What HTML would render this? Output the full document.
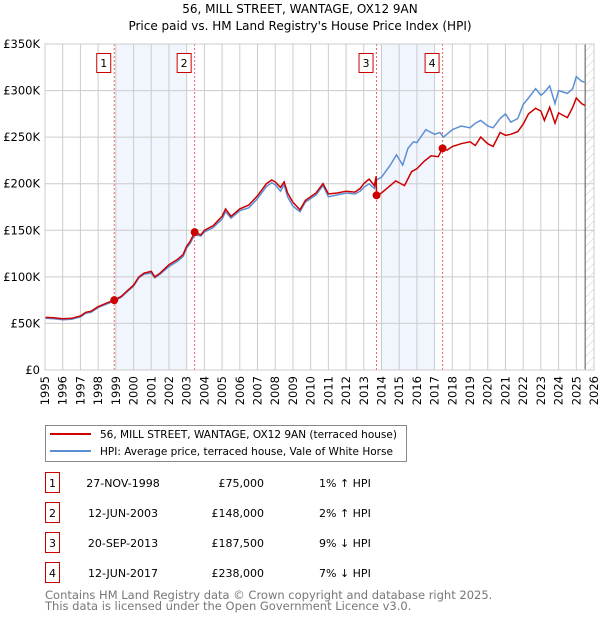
<!DOCTYPE html>
<html><head><meta charset="utf-8"><style>
body{margin:0;background:#fff;font-family:"Liberation Sans","DejaVu Sans",sans-serif;}
svg text{font-family:"DejaVu Sans","Liberation Sans",sans-serif;}
</style></head><body>
<svg id="chart" width="600" height="620" xmlns="http://www.w3.org/2000/svg">
<defs><pattern id="hatch" width="6" height="6" patternUnits="userSpaceOnUse" patternTransform="rotate(45)"><line x1="0" y1="0" x2="0" y2="6" stroke="#ccc" stroke-width="1"/></pattern></defs>
<text x="300" y="13" text-anchor="middle" font-size="12">56, MILL STREET, WANTAGE, OX12 9AN</text>
<text x="300" y="30" text-anchor="middle" font-size="12">Price paid vs. HM Land Registry's House Price Index (HPI)</text>
<g id="plot"></g>
<g>
<rect x="45.5" y="425.5" width="361" height="36" fill="#fff" stroke="#888"/>
<line x1="50" y1="434" x2="91" y2="434" stroke="#cc0000" stroke-width="2"/>
<text x="100" y="438" font-size="10.5">56, MILL STREET, WANTAGE, OX12 9AN (terraced house)</text>
<line x1="50" y1="451" x2="91" y2="451" stroke="#5b8fd4" stroke-width="2"/>
<text x="100" y="455" font-size="10.5">HPI: Average price, terraced house, Vale of White Horse</text>
</g>
<g id="table" font-size="11"></g>
<text x="45" y="599" font-size="11.5" fill="#777">Contains HM Land Registry data © Crown copyright and database right 2025.</text>
<text x="45" y="610" font-size="11.5" fill="#777">This data is licensed under the Open Government Licence v3.0.</text>
</svg>
<script>
const yearTicks=[1995,1996,1997,1998,1999,2000,2001,2002,2003,2004,2005,2006,2007,2008,2009,2010,2011,2012,2013,2014,2015,2016,2017,2018,2019,2020,2021,2022,2023,2024,2025,2026];
const valueTicks=[0,50000,100000,150000,200000,250000,300000,350000];
const valueTickLabels=["£0","£50K","£100K","£150K","£200K","£250K","£300K","£350K"];
const redT=[1995,1995.5,1996,1996.5,1997,1997.3,1997.6,1998,1998.5,1998.91,1999.3,1999.7,2000,2000.3,2000.6,2001,2001.2,2001.5,2002,2002.5,2002.8,2003,2003.2,2003.45,2003.8,2004,2004.5,2005,2005.2,2005.5,2006,2006.5,2007,2007.5,2007.8,2008,2008.3,2008.5,2008.7,2009,2009.4,2009.7,2010,2010.3,2010.7,2011,2011.5,2012,2012.5,2012.8,2013,2013.3,2013.6,2013.7,2013.72,2014,2014.5,2014.8,2015.3,2015.7,2016,2016.4,2016.8,2017.2,2017.45,2017.7,2018,2018.5,2019,2019.3,2019.6,2020,2020.3,2020.7,2021,2021.3,2021.7,2022,2022.3,2022.7,2023,2023.2,2023.5,2023.8,2024,2024.5,2024.8,2025,2025.3,2025.5];
const redV=[56500,56000,55000,55500,58000,62000,63000,68000,72000,75000,79000,86000,91000,100000,104000,106000,100000,104000,113000,119000,124000,133000,138000,148000,145000,150000,155000,165000,173000,165000,173000,177000,187000,200000,204000,202000,196000,202000,190000,180000,172000,182000,186000,190000,200000,189000,190000,192000,191000,195000,200000,205000,198000,208000,187500,190000,198000,203000,198000,213000,216000,224000,230000,229000,238000,236000,240000,243000,245000,241000,250000,243000,240000,255000,252000,253000,256000,264000,275000,281000,278000,268000,282000,265000,276000,271000,282000,292000,286000,284000];
const blueT=[1995,1995.5,1996,1996.5,1997,1997.3,1997.6,1998,1998.5,1998.91,1999.3,1999.7,2000,2000.3,2000.6,2001,2001.2,2001.5,2002,2002.5,2002.8,2003,2003.2,2003.45,2003.8,2004,2004.5,2005,2005.2,2005.5,2006,2006.5,2007,2007.5,2007.8,2008,2008.3,2008.5,2008.7,2009,2009.4,2009.7,2010,2010.3,2010.7,2011,2011.5,2012,2012.5,2012.8,2013,2013.3,2013.6,2013.72,2014,2014.5,2014.85,2015.2,2015.5,2015.8,2016,2016.5,2016.8,2017,2017.3,2017.5,2018,2018.5,2019,2019.3,2019.6,2020,2020.3,2020.7,2021,2021.3,2021.7,2022,2022.3,2022.7,2023,2023.2,2023.5,2023.8,2024,2024.5,2024.8,2025,2025.3,2025.5];
const blueV=[55500,55000,54000,54500,57000,61000,62000,67000,71000,74000,78000,85000,90000,99000,103000,104000,99000,103000,111000,117000,122000,131000,136000,145000,144000,148000,153000,162000,170000,163000,171000,174000,184000,197000,201000,199000,192000,199000,186000,176000,170000,180000,184000,188000,198000,186000,188000,190000,189000,192000,196000,200000,195000,204000,207000,220000,231000,220000,238000,245000,244000,258000,255000,253000,255000,250000,258000,262000,260000,265000,268000,262000,260000,270000,275000,266000,270000,285000,292000,302000,295000,298000,305000,286000,300000,297000,302000,315000,310000,309000];
const saleT=[1998.91,2003.45,2013.72,2017.45];
const saleV=[75000,148000,187500,238000];
const saleLabels=["1","2","3","4"];
const saleDates=["27-NOV-1998","12-JUN-2003","20-SEP-2013","12-JUN-2017"];
const salePrices=["£75,000","£148,000","£187,500","£238,000"];
const saleHpi=["1% ↑ HPI","2% ↑ HPI","9% ↓ HPI","7% ↓ HPI"];
const shadeStart=[1999,2014];
const shadeEnd=[2003,2017];

const NS="http://www.w3.org/2000/svg";
const L=45,R=594,T=44,B=370;
const x=t=>L+(t-1995)/(2026-1995)*(R-L);
const y=v=>B-v/350000*(B-T);
function mk(tag,attrs,parent){const e=document.createElementNS(NS,tag);for(const k in attrs)e.setAttribute(k,attrs[k]);parent.appendChild(e);return e;}
const plot=document.getElementById('plot');
for(let i=0;i<shadeStart.length;i++){
 const r=mk('rect',{x:x(shadeStart[i]),y:T,width:x(shadeEnd[i])-x(shadeStart[i]),height:B-T,fill:'#eef3fc',opacity:0.8},plot);
 
 
}
const hr=mk('rect',{x:x(2025.5),y:T,width:R-x(2025.5),height:B-T,fill:'url(#hatch)'},plot);


yearTicks.forEach(t=>{
 const g=mk('line',{x1:x(t),x2:x(t),y1:T,y2:B,stroke:'#ccc','stroke-width':1},plot);
 
 
 const tx=x(t)+4, ty=B+6;
 const lb=mk('text',{x:tx,y:ty,'font-size':11.5,'text-anchor':'end',transform:`rotate(-90 ${tx} ${ty})`},plot);
 lb.textContent=t;
 
 
});
valueTicks.forEach((v,i)=>{
 const g=mk('line',{x1:L,x2:R,y1:y(v),y2:y(v),stroke:'#ccc','stroke-width':1},plot);
 
 
 const lb=mk('text',{x:L-5,y:y(v)+4,'font-size':11.5,'text-anchor':'end'},plot);
 lb.textContent=valueTickLabels[i];
 
 
});
const nl=mk('line',{x1:x(2025.5),x2:x(2025.5),y1:T,y2:B,stroke:'#555','stroke-width':1},plot);


saleT.forEach((t,i)=>{
 const d=mk('line',{x1:x(t),x2:x(t),y1:T,y2:B,stroke:'#f06070','stroke-width':1,'stroke-dasharray':'2,2'},plot);
 
 
});
const pts=(ts,vs)=>ts.map((t,i)=>x(t).toFixed(1)+','+y(vs[i]).toFixed(1)).join(' ');
const bl=mk('polyline',{points:pts(blueT,blueV),fill:'none',stroke:'#5b8fd4','stroke-width':1.5},plot);


const rl=mk('polyline',{points:pts(redT,redV),fill:'none',stroke:'#cc0000','stroke-width':1.5},plot);


saleT.forEach((t,i)=>{
 const c=mk('circle',{cx:x(t),cy:y(saleV[i]),r:4,fill:'#cc0000'},plot);
 
 
 const bx=mk('rect',{x:x(t)-17.5,y:53.5,width:14,height:19,fill:'#fff',stroke:'#cc0000'},plot);
 
 
 const lt=mk('text',{x:x(t)-10.5,y:67,'font-size':11,'text-anchor':'middle'},plot);
 lt.textContent=saleLabels[i];
 
 
});
const ax=mk('rect',{x:L,y:T,width:R-L,height:B-T,fill:'none',stroke:'#ccc'},plot);


const tb=document.getElementById('table');
saleLabels.forEach((s,i)=>{
 const cy=483+30*i;
 const b=mk('rect',{x:45.5,y:cy-10.5,width:14,height:20,fill:'#fff',stroke:'#cc0000'},tb);
 
 
 const cells=[[52.5,'middle',s],[123,'middle',saleDates[i]],[264,'end',salePrices[i]],[319,'start',saleHpi[i]]];
 cells.forEach(c=>{
  const e=mk('text',{x:c[0],y:cy+4,'text-anchor':c[1],'font-size':11},tb);
  e.textContent=c[2];
  
  
 });
});
</script>
</body></html>
